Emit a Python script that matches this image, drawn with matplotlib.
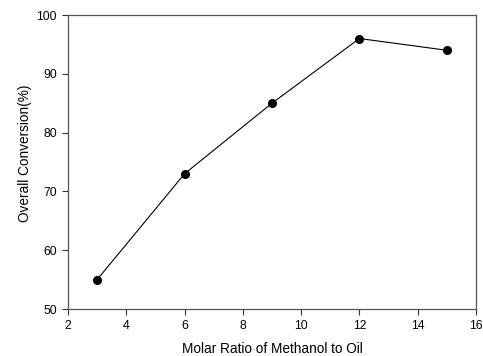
import matplotlib
matplotlib.use("Agg")
import matplotlib.pyplot as plt

ratio = [3, 6, 9, 12, 15]
conversion = [55, 73, 85, 96, 94]
xticks = [2, 4, 6, 8, 10, 12, 14, 16]
yticks = [50, 60, 70, 80, 90, 100]

plt.rcParams['font.family'] = ['Liberation Sans', 'DejaVu Sans']
fig = plt.figure(figsize=(4.83, 3.56), dpi=100)
ax = fig.add_axes([68/483, 1-309/356, (476-68)/483, (309-15)/356])
ax.plot(ratio, conversion, color='black', lw=0.8, marker='o', ms=5.5, mfc='black', mec='black')
ax.set_xlim(2, 16)
ax.set_ylim(50, 100)
ax.set_xticks(xticks)
ax.set_yticks(yticks)
ax.tick_params(direction='out', length=4, width=0.8, labelsize=8.8, colors='#333333', labelcolor='black', pad=4)
for s in ax.spines.values():
    s.set_color('#555555')
    s.set_linewidth(0.9)
ax.set_xlabel('Molar Ratio of Methanol to Oil', fontsize=9.8, labelpad=7)
ax.set_ylabel('Overall Conversion(%)', fontsize=9.8, labelpad=3, y=0.53)
fig.savefig('out.png', dpi=100)
